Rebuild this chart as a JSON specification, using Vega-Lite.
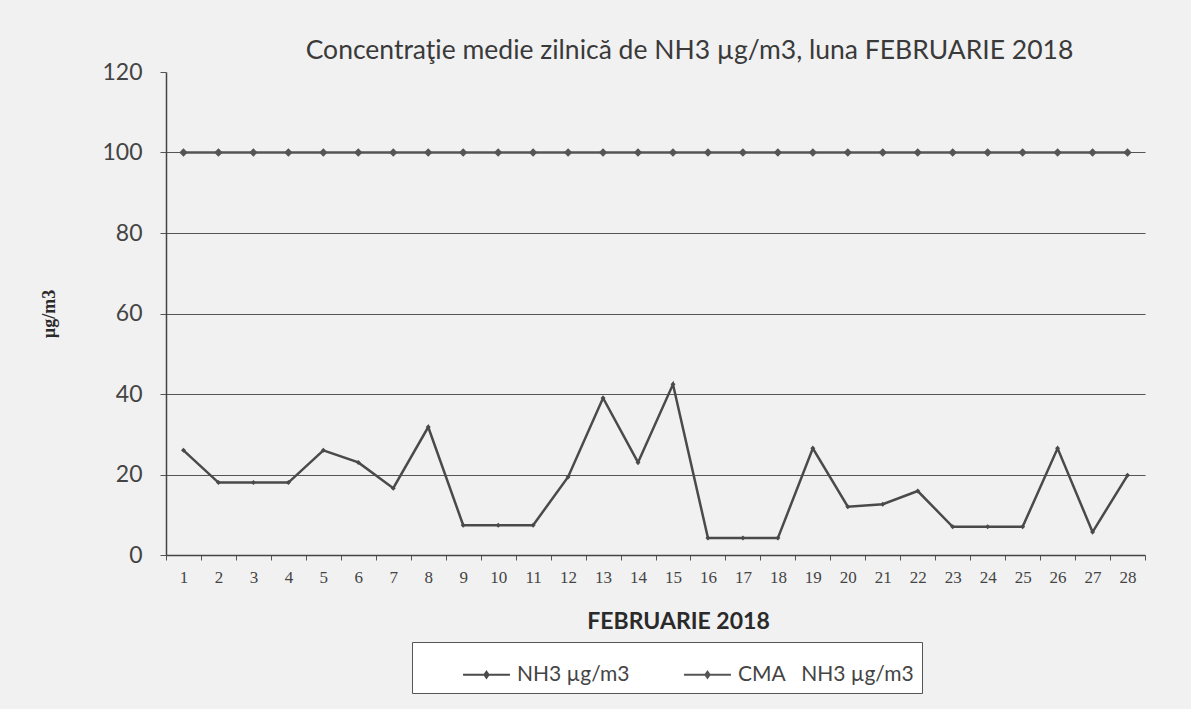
{
  "$schema": "https://vega.github.io/schema/vega-lite/v6.json",
  "width": 979,
  "height": 483,
  "autosize": {"type": "none"},
  "padding": {"left": 166, "top": 72, "right": 46, "bottom": 154},
  "background": "#f1f1f1",
  "title": {
    "text": "Concentraţie medie zilnică de NH3 µg/m3, luna FEBRUARIE 2018",
    "font": "Lato",
    "fontSize": 26.5,
    "fontWeight": "normal",
    "color": "#3a3a3a",
    "anchor": "middle",
    "dx": 34,
    "offset": -3
  },
  "config": {
    "view": {"stroke": null},
    "font": "Lato"
  },
  "data": {
    "values": [
      {"day": "1", "series": "NH3 µg/m3", "value": 26},
      {"day": "2", "series": "NH3 µg/m3", "value": 18},
      {"day": "3", "series": "NH3 µg/m3", "value": 18},
      {"day": "4", "series": "NH3 µg/m3", "value": 18},
      {"day": "5", "series": "NH3 µg/m3", "value": 26},
      {"day": "6", "series": "NH3 µg/m3", "value": 23},
      {"day": "7", "series": "NH3 µg/m3", "value": 16.6},
      {"day": "8", "series": "NH3 µg/m3", "value": 31.8},
      {"day": "9", "series": "NH3 µg/m3", "value": 7.4},
      {"day": "10", "series": "NH3 µg/m3", "value": 7.4},
      {"day": "11", "series": "NH3 µg/m3", "value": 7.4},
      {"day": "12", "series": "NH3 µg/m3", "value": 19.4},
      {"day": "13", "series": "NH3 µg/m3", "value": 39},
      {"day": "14", "series": "NH3 µg/m3", "value": 23},
      {"day": "15", "series": "NH3 µg/m3", "value": 42.4},
      {"day": "16", "series": "NH3 µg/m3", "value": 4.2},
      {"day": "17", "series": "NH3 µg/m3", "value": 4.2},
      {"day": "18", "series": "NH3 µg/m3", "value": 4.2},
      {"day": "19", "series": "NH3 µg/m3", "value": 26.5},
      {"day": "20", "series": "NH3 µg/m3", "value": 12},
      {"day": "21", "series": "NH3 µg/m3", "value": 12.6},
      {"day": "22", "series": "NH3 µg/m3", "value": 15.9},
      {"day": "23", "series": "NH3 µg/m3", "value": 7},
      {"day": "24", "series": "NH3 µg/m3", "value": 7},
      {"day": "25", "series": "NH3 µg/m3", "value": 7},
      {"day": "26", "series": "NH3 µg/m3", "value": 26.5},
      {"day": "27", "series": "NH3 µg/m3", "value": 5.7},
      {"day": "28", "series": "NH3 µg/m3", "value": 19.8},
      {"day": "1", "series": "CMA\u00a0\u00a0 NH3 µg/m3", "value": 100},
      {"day": "2", "series": "CMA\u00a0\u00a0 NH3 µg/m3", "value": 100},
      {"day": "3", "series": "CMA\u00a0\u00a0 NH3 µg/m3", "value": 100},
      {"day": "4", "series": "CMA\u00a0\u00a0 NH3 µg/m3", "value": 100},
      {"day": "5", "series": "CMA\u00a0\u00a0 NH3 µg/m3", "value": 100},
      {"day": "6", "series": "CMA\u00a0\u00a0 NH3 µg/m3", "value": 100},
      {"day": "7", "series": "CMA\u00a0\u00a0 NH3 µg/m3", "value": 100},
      {"day": "8", "series": "CMA\u00a0\u00a0 NH3 µg/m3", "value": 100},
      {"day": "9", "series": "CMA\u00a0\u00a0 NH3 µg/m3", "value": 100},
      {"day": "10", "series": "CMA\u00a0\u00a0 NH3 µg/m3", "value": 100},
      {"day": "11", "series": "CMA\u00a0\u00a0 NH3 µg/m3", "value": 100},
      {"day": "12", "series": "CMA\u00a0\u00a0 NH3 µg/m3", "value": 100},
      {"day": "13", "series": "CMA\u00a0\u00a0 NH3 µg/m3", "value": 100},
      {"day": "14", "series": "CMA\u00a0\u00a0 NH3 µg/m3", "value": 100},
      {"day": "15", "series": "CMA\u00a0\u00a0 NH3 µg/m3", "value": 100},
      {"day": "16", "series": "CMA\u00a0\u00a0 NH3 µg/m3", "value": 100},
      {"day": "17", "series": "CMA\u00a0\u00a0 NH3 µg/m3", "value": 100},
      {"day": "18", "series": "CMA\u00a0\u00a0 NH3 µg/m3", "value": 100},
      {"day": "19", "series": "CMA\u00a0\u00a0 NH3 µg/m3", "value": 100},
      {"day": "20", "series": "CMA\u00a0\u00a0 NH3 µg/m3", "value": 100},
      {"day": "21", "series": "CMA\u00a0\u00a0 NH3 µg/m3", "value": 100},
      {"day": "22", "series": "CMA\u00a0\u00a0 NH3 µg/m3", "value": 100},
      {"day": "23", "series": "CMA\u00a0\u00a0 NH3 µg/m3", "value": 100},
      {"day": "24", "series": "CMA\u00a0\u00a0 NH3 µg/m3", "value": 100},
      {"day": "25", "series": "CMA\u00a0\u00a0 NH3 µg/m3", "value": 100},
      {"day": "26", "series": "CMA\u00a0\u00a0 NH3 µg/m3", "value": 100},
      {"day": "27", "series": "CMA\u00a0\u00a0 NH3 µg/m3", "value": 100},
      {"day": "28", "series": "CMA\u00a0\u00a0 NH3 µg/m3", "value": 100}
    ]
  },
  "encoding": {
    "x": {
      "field": "day",
      "type": "ordinal",
      "sort": null,
      "bandPosition": 0.5,
      "scale": {"type": "band", "paddingInner": 0, "paddingOuter": 0},
      "axis": {
        "title": "FEBRUARIE 2018",
        "titleFont": "Lato",
        "titleFontSize": 23,
        "titleFontWeight": "bold",
        "titleColor": "#2a2a2a",
        "titlePadding": 25,
        "titleX": 512,
        "labelAngle": 0,
        "labelFont": "Liberation Serif",
        "labelFontSize": 17,
        "labelColor": "#444",
        "labelPadding": 9,
        "tickBand": "extent",
        "tickSize": 5,
        "tickColor": "#555",
        "domainColor": "#444",
        "domainWidth": 1.5,
        "grid": false
      }
    },
    "y": {
      "field": "value",
      "type": "quantitative",
      "scale": {"domain": [0, 120]},
      "axis": {
        "title": "µg/m3",
        "titleFont": "Liberation Serif",
        "titleFontSize": 18,
        "titleFontWeight": "bold",
        "titleColor": "#2a2a2a",
        "titlePadding": 43,
        "values": [0, 20, 40, 60, 80, 100, 120],
        "labelFont": "Lato",
        "labelFontSize": 23,
        "labelColor": "#444",
        "labelPadding": 18,
        "tickSize": 6,
        "tickColor": "#555",
        "domainColor": "#444",
        "domainWidth": 1.5,
        "grid": true,
        "gridColor": "#555",
        "gridWidth": 1,
        "gridOpacity": {"condition": {"test": "datum.value === 120 || datum.value === 0", "value": 0}, "value": 1}
      }
    },
    "color": {
      "field": "series",
      "type": "nominal",
      "sort": ["NH3 µg/m3", "CMA\u00a0\u00a0 NH3 µg/m3"],
      "scale": {"domain": ["NH3 µg/m3", "CMA\u00a0\u00a0 NH3 µg/m3"], "range": ["#4a4a4a", "#555555"]},
      "legend": {
        "title": " ",
        "titleOrient": "left",
        "titlePadding": 42,
        "titleFontSize": 12,
        "orient": "none",
        "legendX": 246,
        "legendY": 570,
        "direction": "horizontal",
        "fillColor": "#ffffff",
        "strokeColor": "#555",
        "padding": 8,
        "symbolType": "M-1,0H1M0,-0.13L0.09,0L0,0.13L-0.09,0Z",
        "symbolSize": 2200,
        "symbolStrokeWidth": 2,
        "symbolFillColor": "#666",
        "labelFont": "Lato",
        "labelFontSize": 21,
        "labelColor": "#444",
        "labelLimit": 300,
        "labelOffset": 6,
        "columnPadding": 50
      }
    }
  },
  "layer": [
    {"mark": {"type": "line", "strokeWidth": 2.5}},
    {
      "mark": {"type": "point", "filled": true, "shape": "diamond", "color": "#707070", "opacity": 1},
      "encoding": {
        "size": {"condition": {"test": "datum.series === 'NH3 µg/m3'", "value": 25}, "value": 70}
      }
    }
  ]
}
